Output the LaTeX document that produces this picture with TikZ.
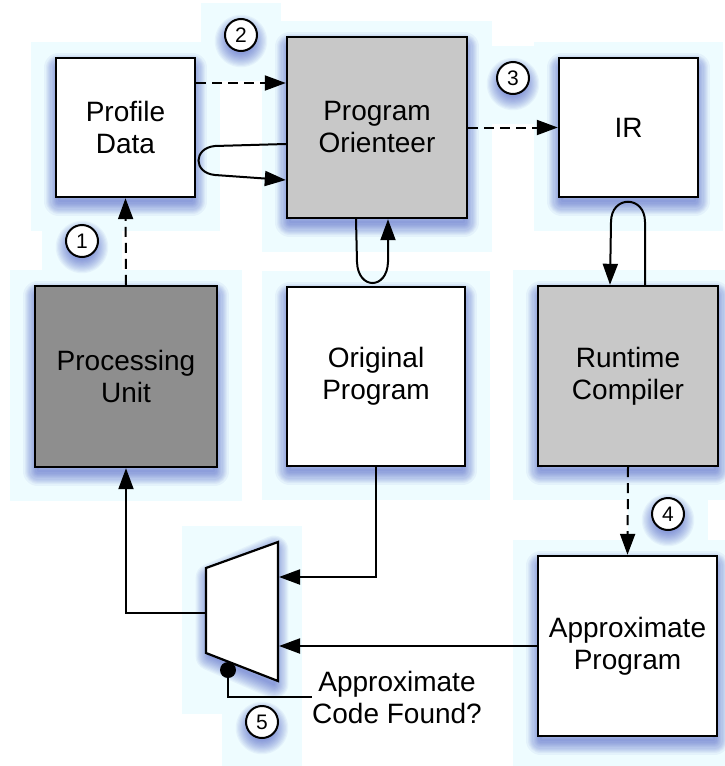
\documentclass[tikz,border=0pt]{standalone}
\usepackage{fontspec}
\setmainfont{Liberation Sans}
\usetikzlibrary{arrows.meta,backgrounds,calc}
\definecolor{haze}{RGB}{238,252,255}
\definecolor{glowc}{RGB}{50,70,190}
\definecolor{lightgray2}{RGB}{200,200,200}
\definecolor{darkgray2}{RGB}{142,142,142}
\tikzset{
  block/.style={draw, line width=2.4pt, inner sep=0pt, align=center,
    font=\fontsize{28}{32}\selectfont},
  badge/.style={draw, circle, fill=white, line width=2pt, inner sep=0pt,
    minimum size=32pt, font=\fontsize{21}{21}\selectfont},
  flow/.style={line width=2pt, -{Triangle[length=21pt,width=15pt]}},
  dflow/.style={flow, dash pattern=on 10pt off 6pt},
  wire/.style={line width=2pt},
  glowline/.style={draw=glowc, draw opacity=0.055, line join=round},
}
\begin{document}
\begin{tikzpicture}[x=1pt,y=-1pt]
\useasboundingbox (0,0) rectangle (725,766);

% blocks
\node[block, fill=white, minimum width=139pt, minimum height=139pt] (pd) at (125.5,127.5) {Profile\\Data};
\node[block, fill=lightgray2, minimum width=180pt, minimum height=181pt] (po) at (377,127.5) {Program\\Orienteer};
\node[block, fill=white, minimum width=139pt, minimum height=139pt] (ir) at (628.5,127.5) {IR};
\node[block, fill=darkgray2, minimum width=182pt, minimum height=181pt] (pu) at (126,376.5) {Processing\\Unit};
\node[block, fill=white, minimum width=178pt, minimum height=179pt] (op) at (376,376.5) {Original\\Program};
\node[block, fill=lightgray2, minimum width=180pt, minimum height=180pt] (rc) at (628,376) {Runtime\\Compiler};
\node[block, fill=white, minimum width=179pt, minimum height=180pt] (ap) at (627.5,646) {Approximate\\Program};

% step badges
\node[badge] (c1) at (82,241) {1};
\node[badge] (c2) at (241,35) {2};
\node[badge] (c3) at (513,78) {3};
\node[badge] (c4) at (668,514) {4};
\node[badge] (c5) at (262,722) {5};

% multiplexer
\coordinate (mux-a) at (206,568);
\coordinate (mux-b) at (278,542);
\coordinate (mux-c) at (278,681);
\coordinate (mux-d) at (206,653);
\coordinate (mux-in1) at (279,577);
\coordinate (mux-in2) at (279,646);
\coordinate (mux-out) at (206,613);
\draw[line width=2.2pt, fill=white] (mux-a) -- (mux-b) -- (mux-c) -- (mux-d) -- cycle;
\node[circle, fill, inner sep=0pt, minimum size=16pt] (dot) at (228,670) {};
\node[inner sep=0pt, align=center, font=\fontsize{28}{32}\selectfont] (sel) at (397,697) {Approximate\\Code Found?};

% connectors
\draw[dflow] (pd.east |- 0,83) -- (po.west |- 0,83);
\draw[flow] (po.west |- 0,144) -- (215,146) .. controls (193,148) and (193,173) .. (215,175) -- (po.west |- 0,180);
\draw[dflow] (po.east) -- (ir.west);
\draw[flow] (po.south -| 356,0) -- (357,262) .. controls (358,290) and (387,290) .. (388,262) -- (po.south -| 388,0);
\draw[flow] (rc.north -| 645,0) -- (645,222) .. controls (645,195) and (611,195) .. (611,222) -- (rc.north -| 610,0);
\draw[dflow] (pu.north) -- (pd.south);
\draw[dflow] (rc.south) -- (ap.north);
\draw[flow] (op.south) |- (mux-in1);
\draw[flow] (ap.west) -- (mux-in2);
\draw[flow] (mux-out) -| (pu.south);
\draw[wire] (dot) |- (sel.west);

% haze panels and soft shadows (inset, pushed down, then blurred outwards)
\begin{pgfonlayer}{background}
  \foreach \n in {pd,po,ir,pu,op,rc,ap}{
    \fill[haze] ([shift={(-24,-15)}]\n.north west) rectangle ([shift={(24,33)}]\n.south east);
  }
  \foreach \n in {c1,c2,c3,c4,c5}{
    \fill[haze] ([shift={(-40,-32)}]\n.center) rectangle ([shift={(40,46)}]\n.center);
  }
  \fill[haze] (182,526) rectangle (302,714);
  \foreach \k in {1,...,12}{
    \pgfmathsetmacro\w{\k*2.4}
    \foreach \n in {pd,po,ir,pu,op,rc,ap}{
      \draw[glowline, line width=\w pt] ([shift={(4,11)}]\n.north west) rectangle ([shift={(-4,3)}]\n.south east);
    }
    \foreach \n in {c1,c2,c3,c4,c5}{
      \draw[glowline, line width=\w pt] ([shift={(0,6)}]\n.center) circle[radius=12pt];
    }
    \draw[glowline, line width=\w pt] ([shift={(4,10)}]mux-a) -- ([shift={(-4,8)}]mux-b) -- ([shift={(-4,3)}]mux-c) -- ([shift={(4,3)}]mux-d) -- cycle;
  }
\end{pgfonlayer}
\end{tikzpicture}
\end{document}
